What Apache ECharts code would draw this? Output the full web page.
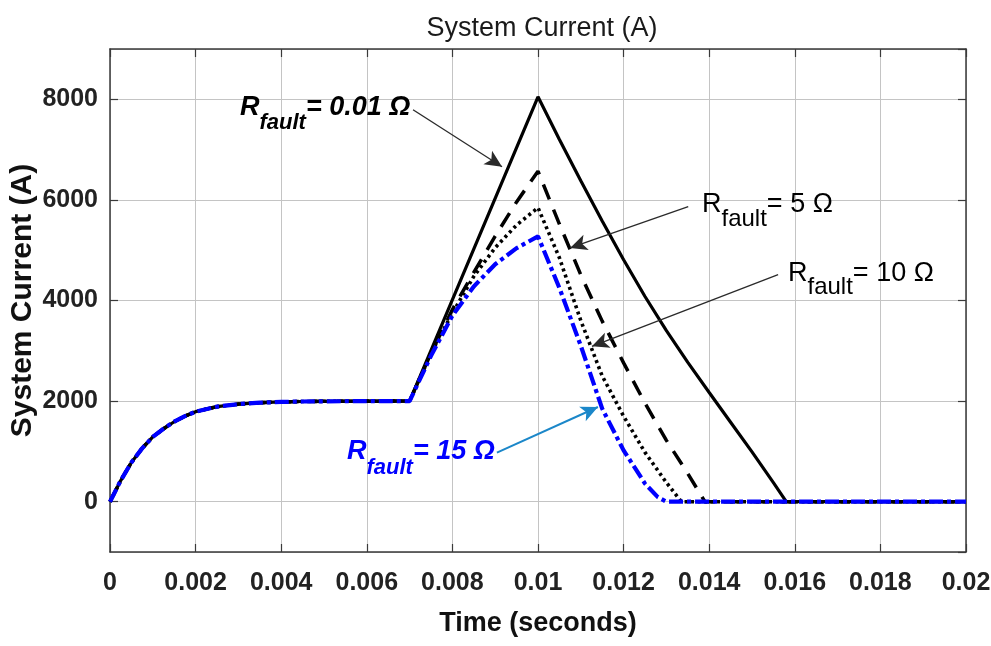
<!DOCTYPE html>
<html>
<head>
<meta charset="utf-8">
<script src="https://cdn.jsdelivr.net/npm/echarts@6/dist/echarts.min.js"></script>
<style>
html,body{margin:0;padding:0;background:#fff;}
#c{width:991px;height:646px;}
</style>
</head>
<body>
<div id="c"></div>
<script>
// ---------------- data ----------------
const xTickValues = [0, 0.002, 0.004, 0.006, 0.008, 0.01, 0.012, 0.014, 0.016, 0.018, 0.02];
const yTickLabels = [0, 2000, 4000, 6000, 8000];

// start-up (common to all cases)
const tStartup = [0, 0.00025, 0.0005, 0.00075, 0.001, 0.00125, 0.0015, 0.00175, 0.002, 0.0025, 0.003, 0.0035, 0.004, 0.0045, 0.005, 0.006];
const iStartup = [0, 420, 780, 1060, 1290, 1450, 1590, 1700, 1790, 1890, 1940, 1968, 1983, 1992, 1996, 1999];

// R_fault = 0.01 ohm
const tR001 = [0.007, 0.010, 0.0105, 0.011, 0.0115, 0.012, 0.0125, 0.013, 0.0135, 0.014, 0.0145, 0.015, 0.0155, 0.0158, 0.020];
const iR001 = [2000, 8050, 7200, 6380, 5580, 4810, 4080, 3400, 2770, 2170, 1580, 990, 380, 0, 0];

// R_fault = 5 ohm
const tR5 = [0.007, 0.0075, 0.008, 0.0085, 0.009, 0.0095, 0.010, 0.0105, 0.011, 0.0115, 0.012, 0.0125, 0.013, 0.0135, 0.0139, 0.020];
const iR5 = [2000, 2950, 3820, 4560, 5280, 5960, 6570, 5520, 4510, 3590, 2760, 1960, 1220, 560, 0, 0];

// R_fault = 10 ohm
const tR10 = [0.007, 0.0075, 0.008, 0.0085, 0.009, 0.0095, 0.010, 0.0105, 0.011, 0.0115, 0.012, 0.0125, 0.013, 0.01335, 0.020];
const iR10 = [2000, 2950, 3750, 4480, 5050, 5500, 5845, 4850, 3600, 2500, 1700, 980, 380, 0, 0];

// R_fault = 15 ohm
const tR15 = [0.007, 0.0075, 0.008, 0.0085, 0.009, 0.0095, 0.010, 0.0105, 0.011, 0.0115, 0.012, 0.0125, 0.0128, 0.013, 0.020];
const iR15 = [2000, 2900, 3700, 4280, 4720, 5040, 5275, 4250, 3100, 1850, 1020, 360, 90, 0, 0];

// annotation arrows: [tStart, iStart, tTip, iTip]
const arrowR001 = [0.00708, 7793, 0.00916, 6660];
const arrowR5   = [0.01351, 5865, 0.01075, 5044];
const arrowR10  = [0.01561, 4513, 0.01126, 3088];
const arrowR15  = [0.00904, 974, 0.01140, 1883];

// ---------------- chart ----------------
const FAMILY = '"Liberation Sans", Arial, Helvetica, sans-serif';
function pts(t, v) { return t.map((x, k) => [x, v[k]]); }
function withStartup(t, v) { return pts(tStartup, iStartup).concat(pts(t, v)); }

const chart = echarts.init(document.getElementById('c'), null, {renderer: 'canvas'});

const frameColor = '#3a3a3a';
const gridColor = '#c4c4c4';

function arrowLine(a, color, width) {
  return [
    {coord: [a[0], a[1]], symbol: 'none', lineStyle: {color: color, width: width, type: 'solid'}},
    {coord: [a[2], a[3]], symbol: 'arrow'}
  ];
}

const option = {
  animation: false,
  backgroundColor: '#ffffff',
  title: {
    text: 'System Current (A)',
    left: 537,
    textAlign: 'center',
    top: 10,
    textStyle: {fontFamily: FAMILY, fontSize: 27, fontWeight: 'normal', color: '#1a1a1a'}
  },
  grid: {left: 110, right: 25, top: 49, bottom: 94, containLabel: false, outerBoundsMode: 'none'},
  xAxis: [{
    type: 'value', min: 0, max: 0.02, interval: 0.002,
    name: 'Time (seconds)', nameLocation: 'middle', nameGap: 58, nameMoveOverlap: false,
    nameTextStyle: {fontFamily: FAMILY, fontSize: 27, fontWeight: 'bold', color: '#111'},
    axisLine: {show: true, onZero: false, lineStyle: {color: frameColor, width: 1.5}},
    axisTick: {show: true, inside: true, length: 8, lineStyle: {color: frameColor, width: 1.2}},
    axisLabel: {
      margin: 19, fontFamily: FAMILY, fontSize: 25, fontWeight: 'bold', color: '#222',
      hideOverlap: false,
      formatter: function (v) { return v === 0 ? '0' : String(+v.toFixed(3)); }
    },
    splitLine: {show: true, lineStyle: {color: gridColor, width: 1}}
  }, {
    type: 'value', min: 0, max: 0.02, interval: 0.002, position: 'top',
    axisLine: {show: true, onZero: false, lineStyle: {color: frameColor, width: 1.5}},
    axisTick: {show: true, inside: true, length: 8, lineStyle: {color: frameColor, width: 1.2}},
    axisLabel: {show: false}, splitLine: {show: false}
  }],
  yAxis: [{
    type: 'value', min: -1000, max: 9000, splitNumber: 5,
    name: 'System Current (A)', nameLocation: 'middle', nameGap: 72, nameRotate: 90, nameMoveOverlap: false,
    nameTextStyle: {fontFamily: FAMILY, fontSize: 30, fontWeight: 'bold', color: '#111'},
    axisLine: {show: true, onZero: false, lineStyle: {color: frameColor, width: 1.5}},
    axisTick: {show: true, inside: true, length: 8, lineStyle: {color: frameColor, width: 1.2}},
    axisLabel: {
      margin: 12, fontFamily: FAMILY, fontSize: 25, fontWeight: 'bold', color: '#222',
      showMinLabel: false, showMaxLabel: false,
      formatter: function (v) { return yTickLabels.indexOf(v) >= 0 ? String(v) : ''; }
    },
    splitLine: {show: true, lineStyle: {color: gridColor, width: 1}}
  }, {
    type: 'value', min: -1000, max: 9000, splitNumber: 5, position: 'right',
    axisLine: {show: true, onZero: false, lineStyle: {color: frameColor, width: 1.5}},
    axisTick: {show: true, inside: true, length: 8, lineStyle: {color: frameColor, width: 1.2}},
    axisLabel: {show: false}, splitLine: {show: false}
  }],
  series: [{
    name: 'R = 0.01', type: 'line', showSymbol: false, symbol: 'none', z: 2,
    data: withStartup(tR001, iR001),
    lineStyle: {color: '#000', width: 3.2, type: 'solid'},
    markLine: {
      silent: true, animation: false, symbol: ['none', 'arrow'], symbolSize: [12, 17],
      label: {show: false}, emphasis: {disabled: true},
      data: [
        arrowLine(arrowR001, '#2a2a2a', 1.3),
        arrowLine(arrowR5, '#2a2a2a', 1.3),
        arrowLine(arrowR10, '#2a2a2a', 1.3),
        arrowLine(arrowR15, '#1b87c9', 2)
      ]
    }
  }, {
    name: 'R = 5', type: 'line', showSymbol: false, symbol: 'none', z: 3,
    data: withStartup(tR5, iR5),
    lineStyle: {color: '#000', width: 3.5, type: [16, 11], cap: 'butt'}
  }, {
    name: 'R = 10', type: 'line', showSymbol: false, symbol: 'none', z: 4,
    data: withStartup(tR10, iR10),
    lineStyle: {color: '#000', width: 3.6, type: [3, 3.5], cap: 'butt'}
  }, {
    name: 'R = 15', type: 'line', showSymbol: false, symbol: 'none', z: 5,
    data: withStartup(tR15, iR15),
    lineStyle: {color: '#0000ff', width: 4.2, type: [14, 4, 4, 4], cap: 'butt'}
  }]
};

chart.setOption(option);

// ------------- text annotations (R_fault labels with subscript) -------------
const measureCtx = document.createElement('canvas').getContext('2d');
function fontStr(style, weight, size) { return style + ' ' + weight + ' ' + size + 'px ' + FAMILY; }
function textW(font, s) { measureCtx.font = font; return measureCtx.measureText(s).width; }

function annotation(x, baseline, rest, opt) {
  const fm = fontStr(opt.style, opt.weight, opt.main);
  const fs = fontStr(opt.style, opt.weight, opt.sub);
  const wR = textW(fm, 'R');
  const wS = textW(fs, 'fault');
  const midMain = baseline - 0.33 * opt.main;
  const midSub = baseline + opt.drop - 0.33 * opt.sub;
  const mk = (tx, px, py, f) => ({
    type: 'text', x: px, y: py, z: 100, silent: true,
    style: {text: tx, font: f, fill: opt.color, textVerticalAlign: 'middle', verticalAlign: 'middle', textAlign: 'left', align: 'left'}
  });
  return [
    mk('R', x, midMain, fm),
    mk('fault', x + wR, midSub, fs),
    mk(rest, x + wR + wS, midMain, fm)
  ];
}

const graphics = [].concat(
  annotation(240, 116, '= 0.01 Ω', {style: 'italic', weight: 'bold', main: 27, sub: 22, drop: 14, color: '#000'}),
  annotation(702, 213, '= 5 Ω', {style: 'normal', weight: 'normal', main: 27, sub: 24, drop: 14, color: '#000'}),
  annotation(788, 282, '= 10 Ω', {style: 'normal', weight: 'normal', main: 27, sub: 24, drop: 13, color: '#000'}),
  annotation(347, 460, '= 15 Ω', {style: 'italic', weight: 'bold', main: 27, sub: 22, drop: 15, color: '#0000ff'})
);
chart.setOption({graphic: graphics});
</script>
</body>
</html>
